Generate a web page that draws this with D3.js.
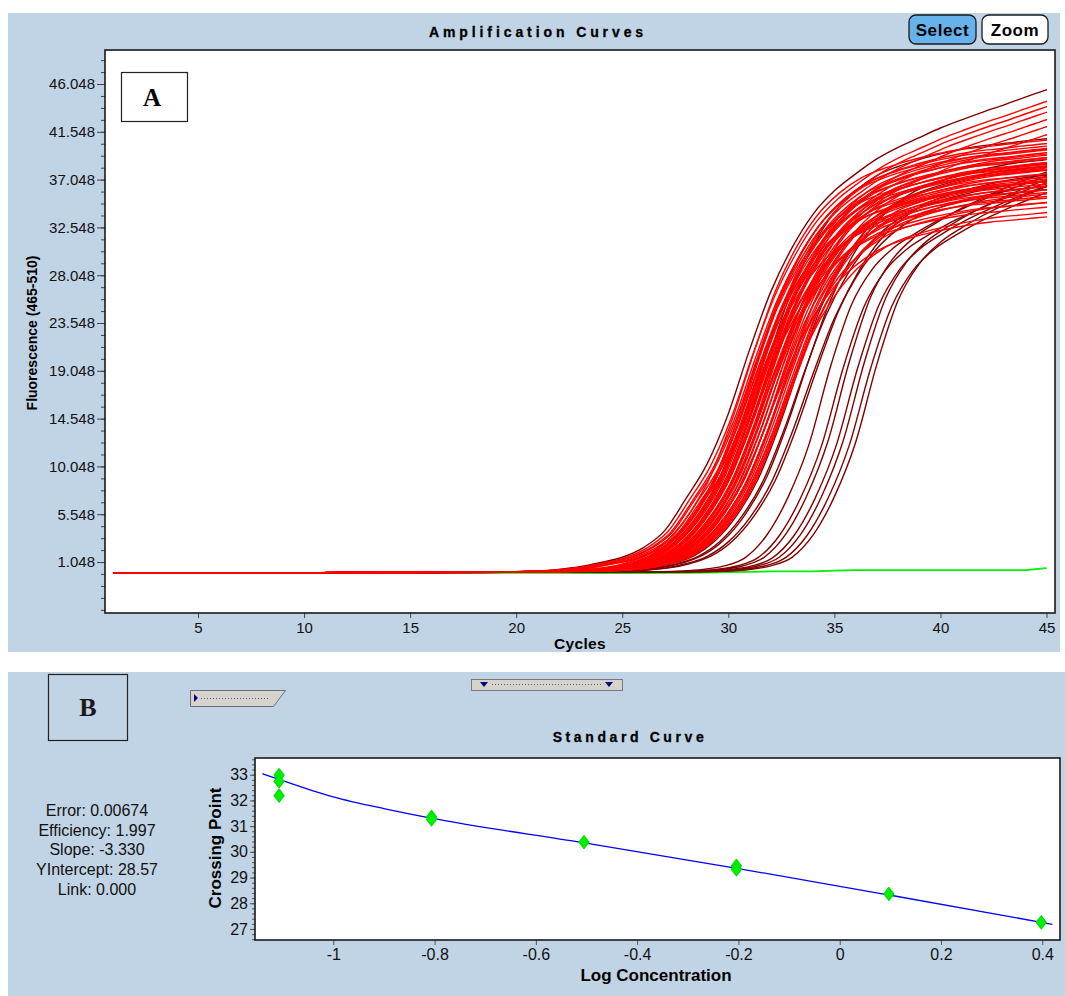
<!DOCTYPE html>
<html><head><meta charset="utf-8">
<script src="https://cdn.jsdelivr.net/npm/d3@7/dist/d3.min.js"></script>
<style>
html,body{margin:0;padding:0;background:#fff;}
svg{display:block;}
text{font-family:"Liberation Sans",Arial,Helvetica,sans-serif;}
</style></head><body>
<svg id="chart" width="1065" height="996"></svg>
<script>
// ---------------- DATA (panel A: amplification curves) ----------------
const ampYTicks = [1.048, 5.548, 10.048, 14.548, 19.048, 23.548, 28.048, 32.548, 37.048, 41.548, 46.048];
const ampYTickLabels = ["1.048","5.548","10.048","14.548","19.048","23.548","28.048","32.548","37.048","41.548","46.048"];
const ampXTicks = [5, 10, 15, 20, 25, 30, 35, 40, 45];
const ampXTickLabels = ["5","10","15","20","25","30","35","40","45"];

// normalised curve shapes (one value per cycle, offset from the curve's crossing cycle)
const profileEarlyStart = -12;
const profileEarly = [0.002,0.003,0.0044,0.0077,0.0132,0.022,0.033,0.053,0.088,0.154,0.226,0.330,0.462,0.582,0.673,0.743,0.791,0.826,0.857,0.881,0.901,0.921,0.938,0.954,0.969,0.985,1.000,1.012,1.024,1.035];
const profileMainStart = -12;
const profileMain = [0.003,0.004,0.005,0.006,0.008,0.013,0.024,0.043,0.080,0.141,0.229,0.359,0.511,0.652,0.755,0.830,0.880,0.915,0.936,0.952,0.965,0.976,0.984,0.989,0.995,1.000,1.005,1.010,1.015];
const profileLateStart = -8;
const profileLate = [0.004,0.0055,0.0096,0.019,0.041,0.099,0.198,0.338,0.540,0.705,0.800,0.856,0.893,0.925,0.952,0.977,1.000,1.020,1.040,1.060];

// per-curve crossing cycle, end level, shape and colour group (0 = red, 1 = dark red)
const ampCt = [
  31.0,31.15,31.3,31.35,31.5,31.6,31.7,
  31.2,31.3,31.3,31.4,31.4,31.5,31.5,31.6,31.6,31.7,31.7,31.7,31.8,31.8,31.9,31.9,31.9,32.0,32.0,32.0,
  32.1,32.1,32.1,32.2,32.2,32.2,32.3,32.3,32.4,32.4,32.5,32.5,32.6,32.6,32.7,32.7,32.8,32.8,32.9,32.9,
  33.0,33.0,33.1,33.1,33.2,33.3,
  32.0,33.4,33.6,33.8,34.0,34.2,
  34.8,35.4,35.7,36.1,36.4,36.7,37.0
];
const ampPlateau = [
  45.5,44.5,44.1,43.6,43.0,42.4,41.7,
  40.6,38.2,36.5,39.8,35.2,37.9,40.1,36.8,38.9,34.4,39.4,37.2,35.8,40.4,38.5,36.1,39.1,37.6,34.9,38.0,
  40.0,36.4,39.6,37.0,35.5,38.7,39.9,36.9,38.3,33.6,37.4,39.2,36.2,38.6,35.0,37.7,39.5,36.6,38.1,34.1,
  37.3,38.8,35.9,37.1,36.3,38.4,
  40.9,38.6,37.2,39.3,36.8,37.9,
  35.8,35.6,36.8,35.8,36.6,35.6,36.4
];
const ampShape = [
  "E","E","E","E","E","E","E",
  "M","M","M","M","M","M","M","M","M","M","M","M","M","M","M","M","M","M","M","M",
  "M","M","M","M","M","M","M","M","M","M","M","M","M","M","M","M","M","M","M","M",
  "M","M","M","M","M","M",
  "M","M","M","M","M","M",
  "L","L","L","L","L","L","L"
];
const ampDark = [
  1,0,0,0,0,0,0,
  0,0,0,0,0,0,0,0,0,0,0,0,0,0,0,0,0,0,0,0,
  0,0,0,0,0,0,0,0,0,0,0,0,0,0,0,0,0,0,0,0,
  0,0,0,0,0,0,
  1,1,1,1,1,1,
  1,1,1,1,1,1,1
];
const ampBaselineStart = -0.02;
// negative control (green), one value per cycle 1..45
const greenValues = [-0.01,-0.01,-0.01,-0.01,-0.01,0.0,0.0,0.0,0.0,0.0,0.01,0.01,0.01,0.01,0.01,0.01,0.02,0.02,0.02,0.02,0.02,0.02,0.00,0.00,0.00,0.00,0.02,0.02,0.04,0.10,0.12,0.17,0.17,0.17,0.24,0.29,0.29,0.29,0.29,0.29,0.29,0.29,0.29,0.29,0.47];

// ---------------- DATA (panel B: standard curve) ----------------
const stdLogConc = [-1.107,-1.107,-1.107,-0.806,-0.806,-0.505,-0.204,-0.204,0.097,0.398];
const stdCrossing = [32.98,32.74,32.19,31.36,31.26,30.38,29.45,29.32,28.36,27.26];
const stdLineX = [-1.14,-1.107,-1.0,-0.9,-0.807,-0.507,-0.206,0.095,0.42];
const stdLineY = [33.04,32.82,32.14,31.68,31.31,30.36,29.37,28.33,27.18];
const stdYTicks = [27,28,29,30,31,32,33];
const stdXTicks = [-1,-0.8,-0.6,-0.4,-0.2,0,0.2,0.4];
const stdXTickLabels = ["-1","-0.8","-0.6","-0.4","-0.2","0","0.2","0.4"];
const stdStats = ["Error: 0.00674","Efficiency: 1.997","Slope: -3.330","YIntercept: 28.57","Link: 0.000"];

// ---------------- DRAW ----------------
const svg = d3.select("#chart");
const bg = "#C1D4E5";
const RED = "#FF0000", DARK = "#800000";

svg.append("rect").attr("x",8).attr("y",13).attr("width",1052).attr("height",639).attr("fill",bg);
svg.append("rect").attr("x",8).attr("y",672).attr("width",1057).attr("height",324).attr("fill",bg);

// ===== Panel A =====
const A = {l:105, r:1055, t:50, b:613};
const ax = d3.scaleLinear().domain([0.615,45.4]).range([A.l,A.r]);
const ay = d3.scaleLinear().domain([-3.75,49.25]).range([A.b,A.t]);

svg.append("text").attr("x",538).attr("y",37).attr("text-anchor","middle")
  .style("font-weight","bold").style("font-size","14px").style("letter-spacing","3.9px")
  .attr("stroke","#000").attr("stroke-width",0.3)
  .text("Amplification Curves");

// buttons
const btn = svg.append("g");
btn.append("rect").attr("x",909).attr("y",15).attr("width",67).attr("height",29).attr("rx",7)
  .attr("fill","#66B2EA").attr("stroke","#1a1a1a").attr("stroke-width",1.3);
btn.append("text").attr("x",942.5).attr("y",36).attr("text-anchor","middle")
  .style("font-weight","bold").style("font-size","17px").style("letter-spacing","0.6px").text("Select");
btn.append("rect").attr("x",982).attr("y",15).attr("width",66).attr("height",29).attr("rx",7)
  .attr("fill","#fff").attr("stroke","#1a1a1a").attr("stroke-width",1.3);
btn.append("text").attr("x",1015).attr("y",36).attr("text-anchor","middle")
  .style("font-weight","bold").style("font-size","17px").style("letter-spacing","0.6px").text("Zoom");

svg.append("rect").attr("x",A.l).attr("y",A.t).attr("width",A.r-A.l).attr("height",A.b-A.t)
  .attr("fill","#fff");

// y axis A
const minorA = [];
for (let v = ampYTicks[0]-4*1.125; v < 49.25; v += 1.125) minorA.push(+v.toFixed(3));
const yMinorA = svg.append("g").attr("transform",`translate(${A.l},0)`)
  .call(d3.axisLeft(ay).tickValues(minorA.filter(v=>v>-3.75)).tickSize(4).tickFormat(""));
const yAxA = svg.append("g").attr("transform",`translate(${A.l},0)`)
  .call(d3.axisLeft(ay).tickValues(ampYTicks).tickSize(8).tickPadding(2)
    .tickFormat((d,i)=>ampYTickLabels[i]));
[yMinorA,yAxA].forEach(g=>{g.select(".domain").remove(); g.selectAll("line").attr("stroke","#444");});
yAxA.selectAll("text").style("font-size","15px").attr("fill","#111").style("font-family","'Liberation Sans',Arial,sans-serif");

// x axis A
const xAxA = svg.append("g").attr("transform",`translate(0,${A.b})`)
  .call(d3.axisBottom(ax).tickValues(ampXTicks).tickSize(5).tickPadding(4)
    .tickFormat((d,i)=>ampXTickLabels[i]));
xAxA.select(".domain").remove();
xAxA.selectAll("line").attr("stroke","#444");
xAxA.selectAll("text").style("font-size","15px").attr("fill","#111").style("font-family","'Liberation Sans',Arial,sans-serif");

svg.append("text").attr("x",580).attr("y",649).attr("text-anchor","middle")
  .style("font-weight","bold").style("font-size","15.5px").style("letter-spacing","0.3px").text("Cycles");
svg.append("text").attr("transform","translate(37,333) rotate(-90)").attr("text-anchor","middle")
  .style("font-weight","bold").style("font-size","14px").text("Fluorescence (465-510)");

// clip
svg.append("clipPath").attr("id","clipA").append("rect")
  .attr("x",ax(1)-1).attr("y",A.t).attr("width",ax(45)-ax(1)+1.5).attr("height",A.b-A.t);

const lineA = d3.line().x(d=>ax(d[0])).y(d=>ay(d[1])).curve(d3.curveMonotoneX);
const curvesG = svg.append("g").attr("clip-path","url(#clipA)");

// green negative control
curvesG.append("path")
  .attr("d", d3.line().x((d,i)=>ax(i+1)).y(d=>ay(d))(greenValues))
  .attr("fill","none").attr("stroke","#00EE00").attr("stroke-width",1.7);

function curvePoints(i){
  const shape = ampShape[i];
  const prof = shape==="E"?profileEarly:(shape==="M"?profileMain:profileLate);
  const start = shape==="E"?profileEarlyStart:(shape==="M"?profileMainStart:profileLateStart);
  const pts = [[1, ampBaselineStart]];
  prof.forEach((t,k)=>{ pts.push([ampCt[i] + start + k, ampPlateau[i]*t]); });
  return pts;
}
// dark curves first, red curves on top (as in the reference, baseline shows red)
const order = d3.range(ampCt.length).sort((a,b)=>ampDark[b]-ampDark[a]);
order.forEach(i=>{
  curvesG.append("path").attr("d", lineA(curvePoints(i)))
    .attr("fill","none").attr("stroke", ampDark[i]?DARK:RED).attr("stroke-width",1.4);
});

svg.append("rect").attr("x",A.l).attr("y",A.t).attr("width",A.r-A.l).attr("height",A.b-A.t)
  .attr("fill","none").attr("stroke","#1a1a1a").attr("stroke-width",1.6);

// "A" label box
svg.append("rect").attr("x",121.5).attr("y",72.5).attr("width",66).attr("height",49)
  .attr("fill","#fff").attr("stroke","#222").attr("stroke-width",1.2);
svg.append("text").attr("x",152).attr("y",106).attr("text-anchor","middle")
  .style("font-family","'Liberation Serif','Times New Roman',serif").style("font-weight","bold")
  .style("font-size","25px").text("A");

// ===== Panel B =====
svg.append("rect").attr("x",48.5).attr("y",674.5).attr("width",79).attr("height",66)
  .attr("fill","none").attr("stroke","#222").attr("stroke-width",1.2);
svg.append("text").attr("x",88).attr("y",716).attr("text-anchor","middle")
  .style("font-family","'Liberation Serif','Times New Roman',serif").style("font-weight","bold")
  .style("font-size","26px").attr("fill","#1a1a1a").text("B");

// slider widgets
const s1 = svg.append("g");
s1.append("path").attr("d","M190.5,690.5 H285.5 L273.5,706.5 H190.5 Z").attr("fill","#D6D3CC").attr("stroke","#6f6f6f");
s1.append("path").attr("d","M194,694 L198,698 L194,702 Z").attr("fill","#000080");
s1.append("line").attr("x1",201).attr("x2",268).attr("y1",698.5).attr("y2",698.5)
  .attr("stroke","#5a5aa0").attr("stroke-dasharray","1,2");
const s2 = svg.append("g");
s2.append("rect").attr("x",471.5).attr("y",679.5).attr("width",151).attr("height",11).attr("fill","#D6D3CC").attr("stroke","#7a7a7a");
s2.append("path").attr("d","M480,682 L488,682 L484,687 Z").attr("fill","#000080");
s2.append("path").attr("d","M605,682 L613,682 L609,687 Z").attr("fill","#000080");
s2.append("line").attr("x1",492).attr("x2",602).attr("y1",684.5).attr("y2",684.5)
  .attr("stroke","#5a5aa0").attr("stroke-dasharray","1,2");

svg.append("text").attr("x",630).attr("y",742).attr("text-anchor","middle")
  .style("font-weight","bold").style("font-size","14px").style("letter-spacing","3.6px")
  .attr("stroke","#000").attr("stroke-width",0.3)
  .text("Standard Curve");

// stats
svg.append("g").selectAll("text").data(stdStats).join("text")
  .attr("x",97).attr("y",(d,i)=>816+i*19.7).attr("text-anchor","middle")
  .style("font-size","16px").attr("fill","#111").text(d=>d);

const B = {l:255, r:1060, t:758, b:940};
const bx = d3.scaleLinear().domain([-1.1546,0.435]).range([B.l,B.r]);
const by = d3.scaleLinear().domain([26.57,33.65]).range([B.b,B.t]);

svg.append("rect").attr("x",B.l).attr("y",B.t).attr("width",B.r-B.l).attr("height",B.b-B.t).attr("fill","#fff");

const minorB = [];
for (let v = 26.6; v < 33.65; v += 0.2) minorB.push(+v.toFixed(2));
const yMinorB = svg.append("g").attr("transform",`translate(${B.l},0)`)
  .call(d3.axisLeft(by).tickValues(minorB).tickSize(3).tickFormat(""));
const yAxB = svg.append("g").attr("transform",`translate(${B.l},0)`)
  .call(d3.axisLeft(by).tickValues(stdYTicks).tickSize(5).tickPadding(2).tickFormat(d3.format("d")));
[yMinorB,yAxB].forEach(g=>{g.select(".domain").remove(); g.selectAll("line").attr("stroke","#555");});
yAxB.selectAll("text").style("font-size","16px").attr("fill","#111").style("font-family","'Liberation Sans',Arial,sans-serif");

const xAxB = svg.append("g").attr("transform",`translate(0,${B.b})`)
  .call(d3.axisBottom(bx).tickValues(stdXTicks).tickSize(5).tickPadding(4)
    .tickFormat((d,i)=>stdXTickLabels[i]));
xAxB.select(".domain").remove();
xAxB.selectAll("line").attr("stroke","#555");
xAxB.selectAll("text").style("font-size","16px").attr("fill","#111").style("font-family","'Liberation Sans',Arial,sans-serif");

svg.append("text").attr("x",656).attr("y",981).attr("text-anchor","middle")
  .style("font-weight","bold").style("font-size","17px").text("Log Concentration");
svg.append("text").attr("transform","translate(221,848) rotate(-90)").attr("text-anchor","middle")
  .style("font-weight","bold").style("font-size","17px").text("Crossing Point");

// fit line
svg.append("path")
  .attr("d", d3.line().x(d=>bx(d)).y((d,i)=>by(stdLineY[i])).curve(d3.curveMonotoneX)(stdLineX))
  .attr("fill","none").attr("stroke","#0000FF").attr("stroke-width",1.3);

// points
svg.append("g").selectAll("path").data(stdLogConc).join("path")
  .attr("transform",(d,i)=>`translate(${bx(d)},${by(stdCrossing[i])})`)
  .attr("d","M0,-6.5 L5,0 L0,6.5 L-5,0 Z")
  .attr("fill","#00F000").attr("stroke","#00E000").attr("stroke-width",1.2).attr("stroke-linejoin","round");

svg.append("rect").attr("x",B.l).attr("y",B.t).attr("width",B.r-B.l).attr("height",B.b-B.t)
  .attr("fill","none").attr("stroke","#1a1a1a").attr("stroke-width",1.6);
</script>
</body></html>
